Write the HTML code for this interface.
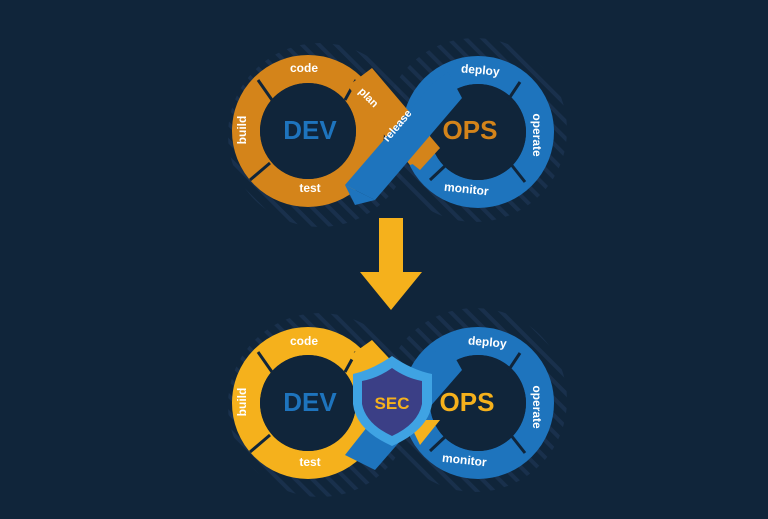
<!DOCTYPE html>
<html><head><style>
html,body{margin:0;padding:0;background:#10253a;}
svg{display:block}
text{font-family:"Liberation Sans",sans-serif;font-weight:bold;}
</style></head><body>
<svg width="768" height="519" viewBox="0 0 768 519" xmlns="http://www.w3.org/2000/svg">
<defs>
<pattern id="h" width="12" height="12" patternUnits="userSpaceOnUse" patternTransform="rotate(-45)">
<rect width="12" height="12" fill="#10253a"/><rect width="4" height="12" fill="#1b3350"/>
</pattern>
</defs>
<rect width="768" height="519" fill="#10253a"/>
<circle cx="320" cy="135" r="92" fill="url(#h)" opacity="0.8"/>
<circle cx="475" cy="130" r="92" fill="url(#h)" opacity="0.8"/>
<circle cx="320" cy="405" r="92" fill="url(#h)" opacity="0.8"/>
<circle cx="475" cy="400" r="92" fill="url(#h)" opacity="0.8"/>

<!-- TOP -->
<circle cx="308" cy="131" r="62" fill="none" stroke="#d4841a" stroke-width="28"/>
<circle cx="308" cy="131" r="48" fill="#10253a"/>
<circle cx="478" cy="132" r="62" fill="none" stroke="#1e74bd" stroke-width="28"/>
<circle cx="478" cy="132" r="48" fill="#10253a"/>
<g stroke="#10253a" stroke-width="3">
<line x1="258" y1="80" x2="272" y2="100"/><line x1="250" y1="180" x2="270" y2="163"/>
<line x1="356" y1="80" x2="345" y2="100"/><line x1="520" y1="82" x2="508" y2="100"/>
<line x1="525" y1="182" x2="510" y2="163"/><line x1="430" y1="180" x2="446" y2="165"/>
</g>
<polygon points="348,86 372,68 440,148 425,160 410,165 380,130" fill="#d4841a"/>
<polygon points="395,150 440,148 420,170" fill="#d4841a"/>
<polygon points="345,185 432,84 448,72 462,98 375,200" fill="#1e74bd"/>
<polygon points="345,185 375,200 355,205" fill="#1e74bd"/>
<text x="304" y="72" fill="#fff" font-size="12" text-anchor="middle">code</text>
<text x="0" y="0" fill="#fff" font-size="12" text-anchor="middle" transform="translate(246,130) rotate(-90)">build</text>
<text x="310" y="192" fill="#fff" font-size="12" text-anchor="middle">test</text>
<text x="0" y="0" fill="#fff" font-size="11" text-anchor="middle" transform="translate(366,100) rotate(45)">plan</text>
<text x="0" y="0" fill="#fff" font-size="11" text-anchor="middle" transform="translate(400,128) rotate(-50)">release</text>
<text x="480" y="74" fill="#fff" font-size="12" text-anchor="middle" transform="rotate(5 480 74)">deploy</text>
<text x="0" y="0" fill="#fff" font-size="12" text-anchor="middle" transform="translate(533,135) rotate(90)">operate</text>
<text x="466" y="193" fill="#fff" font-size="12" text-anchor="middle" transform="rotate(6 466 193)">monitor</text>
<text x="310" y="139" fill="#1e74bd" font-size="26" text-anchor="middle">DEV</text>
<text x="470" y="139" fill="#d4841a" font-size="26" text-anchor="middle">OPS</text>

<polygon points="379,218 403,218 403,272 422,272 391,310 360,272 379,272" fill="#f5b11c"/>

<!-- BOTTOM -->
<circle cx="308" cy="403" r="62" fill="none" stroke="#f5b11c" stroke-width="28"/>
<circle cx="308" cy="403" r="48" fill="#10253a"/>
<circle cx="478" cy="403" r="62" fill="none" stroke="#1e74bd" stroke-width="28"/>
<circle cx="478" cy="403" r="48" fill="#10253a"/>
<g stroke="#10253a" stroke-width="3">
<line x1="258" y1="352" x2="272" y2="372"/><line x1="250" y1="452" x2="270" y2="435"/>
<line x1="356" y1="352" x2="345" y2="372"/><line x1="520" y1="353" x2="508" y2="371"/>
<line x1="525" y1="453" x2="510" y2="434"/><line x1="430" y1="451" x2="446" y2="436"/>
</g>
<polygon points="348,357 372,340 400,370 385,380" fill="#f5b11c"/>
<polygon points="408,420 440,420 420,445" fill="#f5b11c"/>
<polygon points="345,455 420,360 448,345 462,370 375,470" fill="#1e74bd"/>
<path d="M353,374 Q372,370 392,356 Q412,370 432,374 L432,404 Q428,430 392,446 Q356,430 353,404 Z" fill="#3fa3e3"/>
<path d="M362,381 Q378,378 392,368 Q406,378 422,381 L422,404 Q418,424 392,436 Q366,424 362,404 Z" fill="#3b3f86"/>
<text x="392" y="409" fill="#f5b11c" font-size="17" text-anchor="middle">SEC</text>
<text x="304" y="345" fill="#fff" font-size="12" text-anchor="middle">code</text>
<text x="0" y="0" fill="#fff" font-size="12" text-anchor="middle" transform="translate(246,402) rotate(-90)">build</text>
<text x="310" y="466" fill="#fff" font-size="12" text-anchor="middle">test</text>
<text x="487" y="346" fill="#fff" font-size="12" text-anchor="middle" transform="rotate(5 487 346)">deploy</text>
<text x="0" y="0" fill="#fff" font-size="12" text-anchor="middle" transform="translate(533,407) rotate(90)">operate</text>
<text x="464" y="464" fill="#fff" font-size="12" text-anchor="middle" transform="rotate(6 464 464)">monitor</text>
<text x="310" y="411" fill="#1e74bd" font-size="26" text-anchor="middle">DEV</text>
<text x="467" y="411" fill="#f5b11c" font-size="26" text-anchor="middle">OPS</text>
</svg>
</body></html>
